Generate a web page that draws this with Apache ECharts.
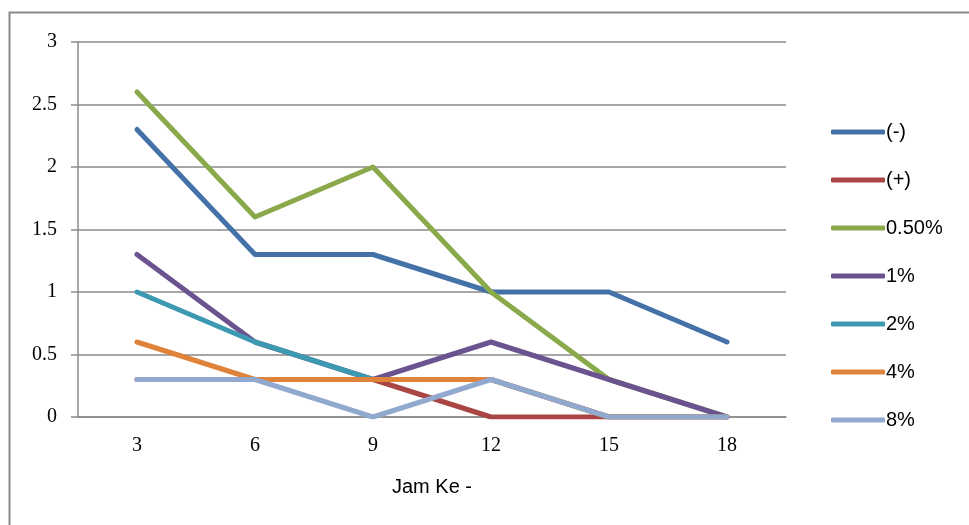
<!DOCTYPE html>
<html>
<head>
<meta charset="utf-8">
<script src="https://cdn.jsdelivr.net/npm/echarts@6/dist/echarts.min.js"></script>
<style>
html,body{margin:0;padding:0;background:#fff;}
#chart{width:969px;height:525px;}
</style>
</head>
<body>
<div id="chart"></div>
<script>
const categories = ['3', '6', '9', '12', '15', '18'];
const seriesNames = ['(-)', '(+)', '0.50%', '1%', '2%', '4%', '8%'];
const sMinus = [2.3, 1.3, 1.3, 1.0, 1.0, 0.6];
const sPlus = [0.3, 0.3, 0.3, 0, 0, 0];
const s050 = [2.6, 1.6, 2.0, 1.0, 0.3, 0];
const s1 = [1.3, 0.6, 0.3, 0.6, 0.3, 0];
const s2 = [1.0, 0.6, 0.3, 0.3, 0, 0];
const s4 = [0.6, 0.3, 0.3, 0.3, 0, 0];
const s8 = [0.3, 0.3, 0, 0.3, 0, 0];
const yTicks = [0, 0.5, 1, 1.5, 2, 2.5, 3];
const colors = ['#4472A8', '#A94643', '#8AA94B', '#6B5390', '#3D99B1', '#E0833A', '#92A9CF'];

const allData = [sMinus, sPlus, s050, s1, s2, s4, s8];
const chart = echarts.init(document.getElementById('chart'));
chart.setOption({
  animation: false,
  backgroundColor: '#fff',
  graphic: [{
    type: 'rect', silent: true,
    shape: {x: 9.5, y: 12.5, width: 1000, height: 600},
    style: {fill: 'none', stroke: '#8a8a8a', lineWidth: 2}
  }],
  grid: {left: 78, right: 183, top: 42, bottom: 108},
  legend: {
    orient: 'vertical',
    left: 826, top: 117,
    icon: 'roundRect',
    itemWidth: 54, itemHeight: 5,
    itemGap: 28,
    textStyle: {fontFamily: 'Liberation Sans, Arial, sans-serif', fontSize: 20, color: '#000', lineHeight: 20, padding: [0,0,0,-4]},
    data: seriesNames
  },
  xAxis: {
    type: 'category',
    data: categories,
    boundaryGap: true,
    name: 'Jam Ke -',
    nameLocation: 'middle',
    nameGap: 60,
    nameTextStyle: {fontFamily: 'Liberation Sans, Arial, sans-serif', fontSize: 20, color: '#000'},
    axisLine: {lineStyle: {color: '#8a8a8a', width: 1.5}},
    axisTick: {show: false},
    axisLabel: {fontFamily: 'Liberation Serif, Times New Roman, serif', fontSize: 20, color: '#000', margin: 19}
  },
  yAxis: {
    type: 'value',
    min: yTicks[0], max: yTicks[yTicks.length - 1], interval: 0.5,
    axisLine: {show: true, lineStyle: {color: '#8a8a8a', width: 1.5}},
    axisTick: {show: true, length: 7, lineStyle: {color: '#8a8a8a', width: 1.5}},
    splitLine: {lineStyle: {color: '#8a8a8a', width: 1.5}},
    axisLabel: {fontFamily: 'Liberation Serif, Times New Roman, serif', fontSize: 20, color: '#000', margin: 21}
  },
  series: seriesNames.map((n, i) => ({
    name: n,
    type: 'line',
    data: allData[i],
    color: colors[i],
    showSymbol: false,
    symbol: 'none',
    lineStyle: {width: 5, color: colors[i], cap: 'round', join: 'round'},
    z: 2 + i
  }))
});
</script>
</body>
</html>
